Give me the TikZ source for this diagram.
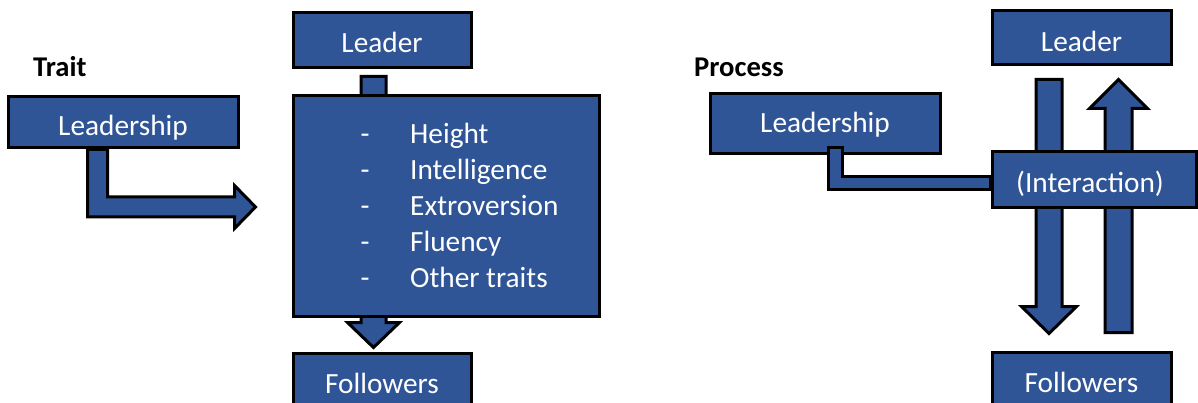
\documentclass[tikz,border=0pt]{standalone}
\usepackage{fontspec}
\setmainfont{Carlito}
\usetikzlibrary{calc,backgrounds}
\definecolor{boxblue}{RGB}{47,85,151}
\newcommand\boxfont{\fontsize{29.3}{34}\selectfont}
\newcommand\headfont{\fontsize{28.6}{34}\selectfont\bfseries}

\begin{document}
\begin{tikzpicture}[x=1pt,y=-1pt,
  diagbox/.style={draw=black, line width=3pt, fill=boxblue, text=white,
    inner sep=0pt, font=\boxfont, text depth=0pt},
  blockarrow/.style={draw=black, line width=3pt, fill=boxblue,
    line join=miter, miter limit=10},
  heading/.style={font=\headfont, text=black, anchor=base west, inner sep=0pt},
  listitem/.style={font=\boxfont, text=white, anchor=base west, inner sep=0pt},
  dashmark/.style={font=\boxfont, text=white, anchor=base, inner sep=0pt}]

\useasboundingbox (0,0) rectangle (1198,403);

% ---------------- Trait view ----------------
\node[heading] (traitTitle) at (33,76.5) {Trait};
\node[diagbox, minimum width=230pt, minimum height=51pt, text height=27pt]
  (lLead) at (123,122.5) {Leadership};
\node[diagbox, minimum width=178pt, minimum height=55pt, text height=25pt]
  (lLeader) at (382,40.5) {Leader};
\node[diagbox, minimum width=306pt, minimum height=220pt] (traits) at (446,206) {};
\foreach \w [count=\i] in {Height,Intelligence,Extroversion,Fluency,Other traits} {
  \node[dashmark] (d\i) at (365,{144+35.75*(\i-1)}) {-};
  \node[listitem] (t\i) at (410,{144+35.75*(\i-1)}) {\w};
}
\node[diagbox, minimum width=178pt, minimum height=55pt, text height=25pt]
  (lFoll) at (382,380.5) {Followers};

% ---------------- Process view ----------------
\node[heading] (processTitle) at (694,76.5) {Process};
\node[diagbox, minimum width=230pt, minimum height=60pt, text height=18pt]
  (rLead) at (825,124) {Leadership};
\node[diagbox, minimum width=179pt, minimum height=54pt, text height=28pt]
  (rLeader) at (1081.5,38) {Leader};
\node[diagbox, minimum width=204pt, minimum height=56pt, text height=26pt]
  (inter) at (1094,180) {(Interaction)\hspace*{8pt}};
\node[diagbox, minimum width=179pt, minimum height=55pt, text height=25pt]
  (rFoll) at (1081.5,379.5) {Followers};

% elbow from Leadership into the interaction box
\coordinate (elbowTop) at ($(rLead.south)+(10,-8)$);
\coordinate (elbowEnd) at ($(inter.west)+(0,3.5)$);
\draw[blockarrow] let \p1=(elbowTop), \p2=(elbowEnd) in
  (\x1-7pt,\y1) -- (\x1-7pt,\y2-6.5pt) -- (\x2,\y2-6.5pt) -- (\x2,\y2+6.5pt)
  -- (\x1+7pt,\y2+6.5pt) -- (\x1+7pt,\y1) -- cycle;

% ---------------- block arrows behind the boxes ----------------
\begin{scope}[on background layer]
  % Leader -> Followers, running behind the trait list
  \coordinate (lA) at ($(lLeader.south)+(-8.5,7)$);
  \coordinate (lB) at ($(lFoll.north)+(-8.5,-4)$);
  \draw[blockarrow] let \p1=(lA), \p2=(lB) in
    (\x1-12.5pt,\y1) -- (\x1-12.5pt,\y2+25pt) -- (\x1-26pt,\y2+25pt) -- (\x1,\y2)
    -- (\x1+26pt,\y2+25pt) -- (\x1+12.5pt,\y2+25pt) -- (\x1+12.5pt,\y1) -- cycle;

  % bent arrow: Leadership -> traits
  \coordinate (bendTop) at ($(lLead.south)+(-25.5,0)$);
  \coordinate (traitTip) at ($(traits.west)+(-36,1)$);
  \draw[blockarrow] let \p1=(bendTop), \p2=(traitTip) in
    (\x1-10pt,\y1) -- (\x1-10pt,\y2-10pt) -- (\x2-21pt,\y2-10pt)
    -- (\x2-21pt,\y2-21.5pt) -- (\p2) -- (\x2-21pt,\y2+21.5pt)
    -- (\x2-21pt,\y2+10pt) -- (\x1+10pt,\y2+10pt) -- (\x1+10pt,\y1) -- cycle;

  % Leader -> Followers (down)
  \coordinate (rDownTop) at ($(rLeader.south)+(-32.5,13)$);
  \coordinate (rDownTip) at ($(rFoll.north)+(-32.5,-17)$);
  \draw[blockarrow] let \p1=(rDownTop), \p2=(rDownTip) in
    (\x1-13pt,\y1) -- (\x1-13pt,\y2+27pt) -- (\x1-27.5pt,\y2+27pt) -- (\x1,\y2)
    -- (\x1+27.5pt,\y2+27pt) -- (\x1+13pt,\y2+27pt) -- (\x1+13pt,\y1) -- cycle;

  % Followers -> Leader (up)
  \coordinate (rUpBase) at ($(rFoll.north)+(37,-18)$);
  \coordinate (rUpTip) at ($(rLeader.south)+(37,13)$);
  \draw[blockarrow] let \p1=(rUpBase), \p2=(rUpTip) in
    (\x1-13.5pt,\y1) -- (\x1-13.5pt,\y2-29pt) -- (\x1-29pt,\y2-29pt) -- (\x1,\y2)
    -- (\x1+29pt,\y2-29pt) -- (\x1+13.5pt,\y2-29pt) -- (\x1+13.5pt,\y1) -- cycle;
\end{scope}
\end{tikzpicture}
\end{document}
